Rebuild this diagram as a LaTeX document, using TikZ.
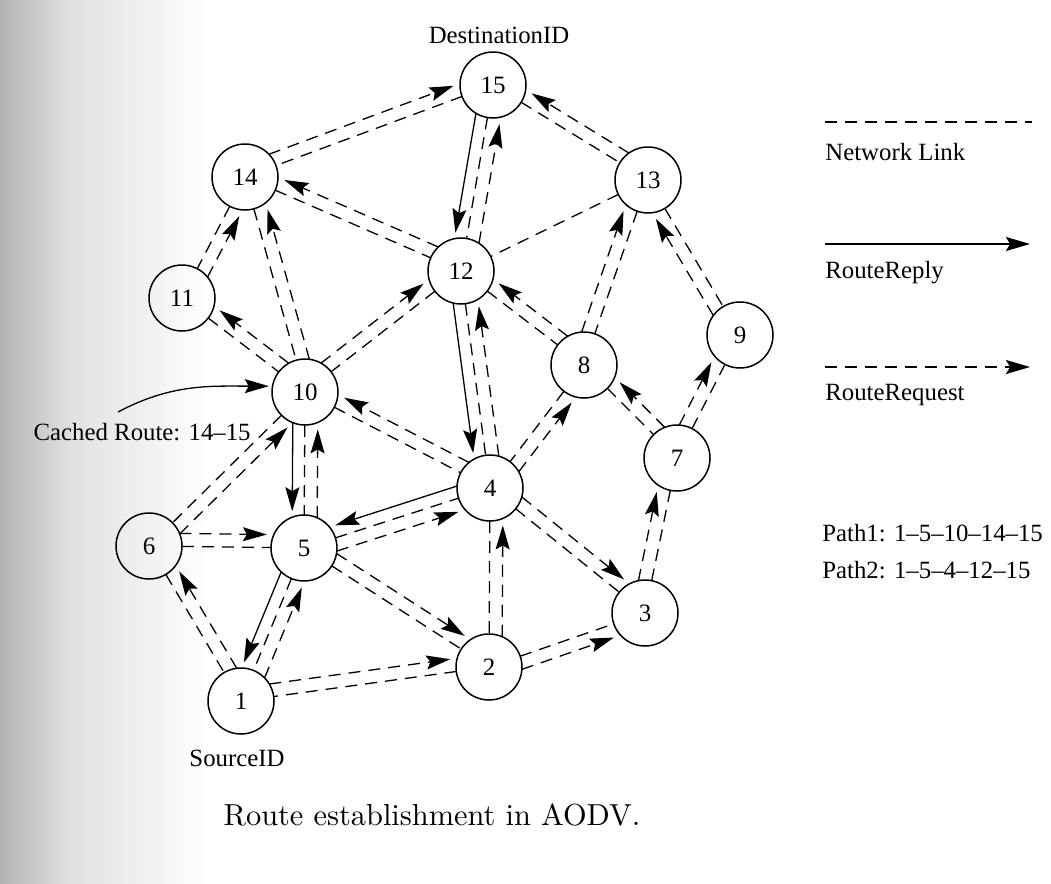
\documentclass[tikz,border=0pt]{standalone}
\usepackage{fontspec}
\usetikzlibrary{calc,arrows.meta}
\newfontfamily\labelfont{Liberation Serif}

\tikzset{
  host/.style={draw, circle, line width=0.75pt, minimum size=33pt, inner sep=0pt,
    font=\labelfont\fontsize{12.5}{14}\selectfont},
  tag/.style={inner sep=0pt, font=\labelfont\fontsize{12.4}{14}\selectfont},
  netlink/.style={line width=0.65pt, dash pattern=on 6pt off 4pt},
  request/.style={netlink, -{Stealth[length=12pt,width=7pt,inset=2pt]}},
  reply/.style={line width=0.65pt, -{Stealth[length=12pt,width=7pt,inset=2pt]}},
}

% straight connector between two hosts, moved sideways by #4 pt
% (positive = left of the direction of travel), trimmed to the circles;
% #5 is the extra gap left in front of the head
\newcommand\hop[5]{%
  \pgfmathsetmacro\hopcut{sqrt(16.5*16.5-(#4)*(#4))}%
  \pgfmathsetmacro\hopend{\hopcut+#5}%
  \draw[#1, shorten <=\hopcut pt, shorten >=\hopend pt]
    ($(#2.center)!#4pt!90:(#3.center)$) -- ($(#3.center)!#4pt!-90:(#2.center)$);%
}
\newcommand\wire[2]{\hop{netlink}{#1}{#2}{0}{0}}
\newcommand\rreq[3]{\hop{request}{#1}{#2}{#3}{3.5}}
\newcommand\rrep[3]{\hop{reply}{#1}{#2}{#3}{3}}

\begin{document}
\begin{tikzpicture}[x=0.5pt, y=-0.5pt]
\useasboundingbox (0,0) rectangle (1051,884);

% scanner shadow along the left edge
\shade[left color=black!30, right color=black!12] (0,0) rectangle (70,884);
\shade[left color=black!12, right color=white] (70,0) rectangle (210,884);

% hosts
\node[host] (n15) at (493,85)  {15};
\node[host] (n14) at (245,177) {14};
\node[host] (n13) at (648,180) {13};
\node[host] (n12) at (461,271) {12};
\node[host] (n11) at (182,298) {11};
\node[host] (n9)  at (740,335) {9};
\node[host] (n8)  at (584,365) {8};
\node[host] (n10) at (305,392) {10};
\node[host] (n7)  at (677,458) {7};
\node[host] (n4)  at (490,488) {4};
\node[host] (n6)  at (149,546) {6};
\node[host] (n5)  at (304,548) {5};
\node[host] (n3)  at (645,613) {3};
\node[host] (n2)  at (489,667) {2};
\node[host] (n1)  at (241,701) {1};

\node[tag] (dst) at (499,35)  {DestinationID};
\node[tag] (src) at (237,758) {SourceID};

% network links
\wire{n15}{n14} \wire{n15}{n13} \wire{n15}{n12}
\wire{n14}{n12} \wire{n14}{n11} \wire{n14}{n10}
\wire{n13}{n12} \wire{n13}{n8}  \wire{n13}{n9}
\wire{n12}{n10} \wire{n12}{n4}  \wire{n12}{n8}
\wire{n11}{n10} \wire{n10}{n6}  \wire{n10}{n5}  \wire{n10}{n4}
\wire{n9}{n7}   \wire{n8}{n4}   \wire{n8}{n7}   \wire{n7}{n3}
\wire{n6}{n5}   \wire{n6}{n1}   \wire{n5}{n1}   \wire{n5}{n4}
\wire{n5}{n2}   \wire{n4}{n2}   \wire{n4}{n3}   \wire{n2}{n1}
\wire{n2}{n3}

% route requests
\rreq{n14}{n15}{6.5}  \rreq{n13}{n15}{-6.5} \rreq{n12}{n15}{-6.5}
\rreq{n12}{n14}{-6.5} \rreq{n11}{n14}{-6.5} \rreq{n10}{n14}{-6.5}
\rreq{n10}{n11}{-6.5} \rreq{n10}{n12}{6.5}  \rreq{n4}{n10}{-6.5}
\rreq{n5}{n10}{-6.5}  \rreq{n6}{n10}{-6.5}  \rreq{n6}{n5}{6.5}
\rreq{n1}{n6}{-6.5}   \rreq{n1}{n5}{-6.5}   \rreq{n5}{n4}{-6.5}
\rreq{n5}{n2}{6.5}    \rreq{n1}{n2}{6.5}    \rreq{n2}{n4}{-6.5}
\rreq{n2}{n3}{-6.5}   \rreq{n4}{n3}{6.5}    \rreq{n4}{n12}{-6.5}
\rreq{n4}{n8}{-6.5}   \rreq{n8}{n12}{-6.5}  \rreq{n8}{n13}{6.5}
\rreq{n7}{n8}{-6.5}   \rreq{n7}{n9}{6.5}    \rreq{n9}{n13}{6.5}
\rreq{n3}{n7}{6.5}

% route replies
\rrep{n15}{n12}{-6} \rrep{n12}{n4}{-6} \rrep{n4}{n5}{-6}
\rrep{n10}{n5}{-6}  \rrep{n5}{n1}{-6}

% cached route note
\node[tag, anchor=east] (cached) at (251,432) {Cached Route: 14–15};
\coordinate (cachedfrom) at (118,412);
\draw[reply, shorten >=1.5pt] (cachedfrom) to[out=28, in=180] (n10.170);

% legend
\coordinate (lega) at (825,122);  \coordinate (legb) at (1032,122);
\coordinate (legc) at (825,244);  \coordinate (legd) at (1030,244);
\coordinate (lege) at (825,367);  \coordinate (legf) at (1030,367);
\draw[netlink] (lega) -- (legb);
\draw[reply] (legc) -- (legd);
\draw[request] (lege) -- (legf);
\node[tag, anchor=west] (leglink) at (825,152) {Network Link};
\node[tag, anchor=west] (legrep)  at (825,273) {RouteReply};
\node[tag, anchor=west] (legreq)  at (825,395) {RouteRequest};
\node[tag, anchor=west] (path1) at (822,533) {Path1: 1–5–10–14–15};
\node[tag, anchor=west] (path2) at (822,570) {Path2: 1–5–4–12–15};

% caption
\node (caption) at (432,815) {\scalebox{1.52}{\fontsize{10}{12}\selectfont Route establishment in AODV.}};
\end{tikzpicture}
\end{document}
